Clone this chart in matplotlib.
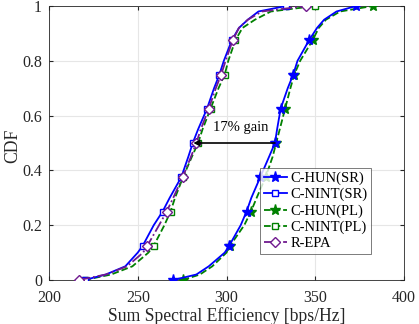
import matplotlib
matplotlib.use("Agg")
import matplotlib.pyplot as plt

cdf_levels = [0, 0.02, 0.05, 0.1, 0.125, 0.2, 0.25, 0.3, 0.375, 0.45, 0.5, 0.55,
              0.625, 0.7, 0.75, 0.8, 0.875, 0.92, 0.95, 0.98, 1.0]
marker_idx = [0, 4, 6, 8, 10, 12, 14, 16, 20]

hun_sr = [270, 283, 290, 299, 301.5, 308, 311.3, 314, 319, 324, 327.3, 328.5,
          330.5, 334.5, 337.6, 340, 346.5, 351, 355, 362, 373]
nint_sr = [220, 232, 243, 250, 252.8, 259, 264, 268, 274.5, 278.5, 281, 284,
           289, 293, 296, 298.5, 303, 307, 312, 318, 333.5]
hun_pl = [275.3, 285, 292, 300, 302, 310, 313.8, 317, 322, 326, 328, 330,
          333, 336, 338.2, 341.5, 348.5, 352, 356, 364, 382.4]
nint_pl = [220, 235, 247, 256, 259, 265, 268.5, 271, 275.5, 280.5, 284, 286.5,
           291, 295.5, 299, 301, 305, 309, 316, 325, 350]
r_epa = [216.8, 232, 244, 253, 255.4, 262, 266.3, 270, 275.3, 280, 283, 285.5,
         290, 294, 297, 299.5, 303.5, 307, 312, 320, 344.8]

labels = ["C-HUN(SR)", "C-NINT(SR)", "C-HUN(PL)", "C-NINT(PL)", "R-EPA"]
x_ticks = [200, 250, 300, 350, 400]
y_ticks = [0, 0.2, 0.4, 0.6, 0.8, 1]
y_ticklabels = ["0", "0.2", "0.4", "0.6", "0.8", "1"]

arrow_y = 0.5
arrow_from = 327.3
arrow_to = 281.3
gain_text = "17% gain"

plt.rcParams['font.family'] = ['Liberation Serif', 'DejaVu Serif']

fig = plt.figure(figsize=(4.19, 3.24), dpi=100)
ax = fig.add_axes([49/419, 1 - 280/324, (404-49)/419, (280-6)/324])

blue = (0, 0, 1)
green = (0, 0.5, 0)
purple = (0.44, 0.1, 0.56)

ax.plot(hun_sr, cdf_levels, '-', color=blue, lw=1.3, marker='*', ms=8,
        markevery=marker_idx, label=labels[0], zorder=5)
ax.plot(nint_sr, cdf_levels, '-', color=blue, lw=1.3, marker='s', ms=5,
        mfc='white', markevery=marker_idx, label=labels[1], zorder=5)
ax.plot(hun_pl, cdf_levels, '--', color=green, lw=1.3, marker='*', ms=8,
        markevery=marker_idx, label=labels[2], zorder=4)
ax.plot(nint_pl, cdf_levels, '--', color=green, lw=1.3, marker='s', ms=5,
        mfc='white', markevery=marker_idx, label=labels[3], zorder=4)
ax.plot(r_epa, cdf_levels, '-.', color=purple, lw=1.3, marker='D', ms=5,
        mfc='white', markevery=marker_idx, label=labels[4], zorder=6)

ax.annotate('', xy=(arrow_to, arrow_y), xytext=(arrow_from, arrow_y),
            arrowprops=dict(arrowstyle='-|>', color='black', lw=1.2,
                            mutation_scale=8, shrinkA=0, shrinkB=0), zorder=7)
ax.text(308, 0.555, gain_text, ha='center', va='center', fontsize=10.5)

ax.set_xlim(200, 400)
ax.set_ylim(0, 1)
ax.set_xticks(x_ticks)
ax.set_yticks(y_ticks)
ax.set_yticklabels(y_ticklabels)
ax.tick_params(direction='in', labelsize=11.5, colors='#262626', length=3,
               top=True, right=True)
ax.tick_params(axis='x', pad=7)
ax.tick_params(axis='y', pad=5)
ax.grid(True, color='#e6e6e6', lw=0.8)
ax.set_axisbelow(True)
for s in ax.spines.values():
    s.set_color('#262626')
    s.set_linewidth(0.6)
ax.set_xlabel("Sum Spectral Efficiency [bps/Hz]", fontsize=12.7, color='#262626', labelpad=1)
ax.set_ylabel("CDF", fontsize=12.7, color='#262626', va='center')
ax.yaxis.set_label_coords(-0.101, 0.49)

leg = ax.legend(loc='lower left',
                bbox_to_anchor=(260/419, 1 - 254/324, (368-260)/419, (254-167)/324),
                bbox_transform=fig.transFigure,
                fontsize=10.5, frameon=True, fancybox=False, edgecolor='#404040',
                borderpad=0.25, labelspacing=0.2, handlelength=1.6, handletextpad=0.25,
                borderaxespad=0)
leg.get_frame().set_linewidth(0.6)

fig.savefig("out.png", dpi=100)
